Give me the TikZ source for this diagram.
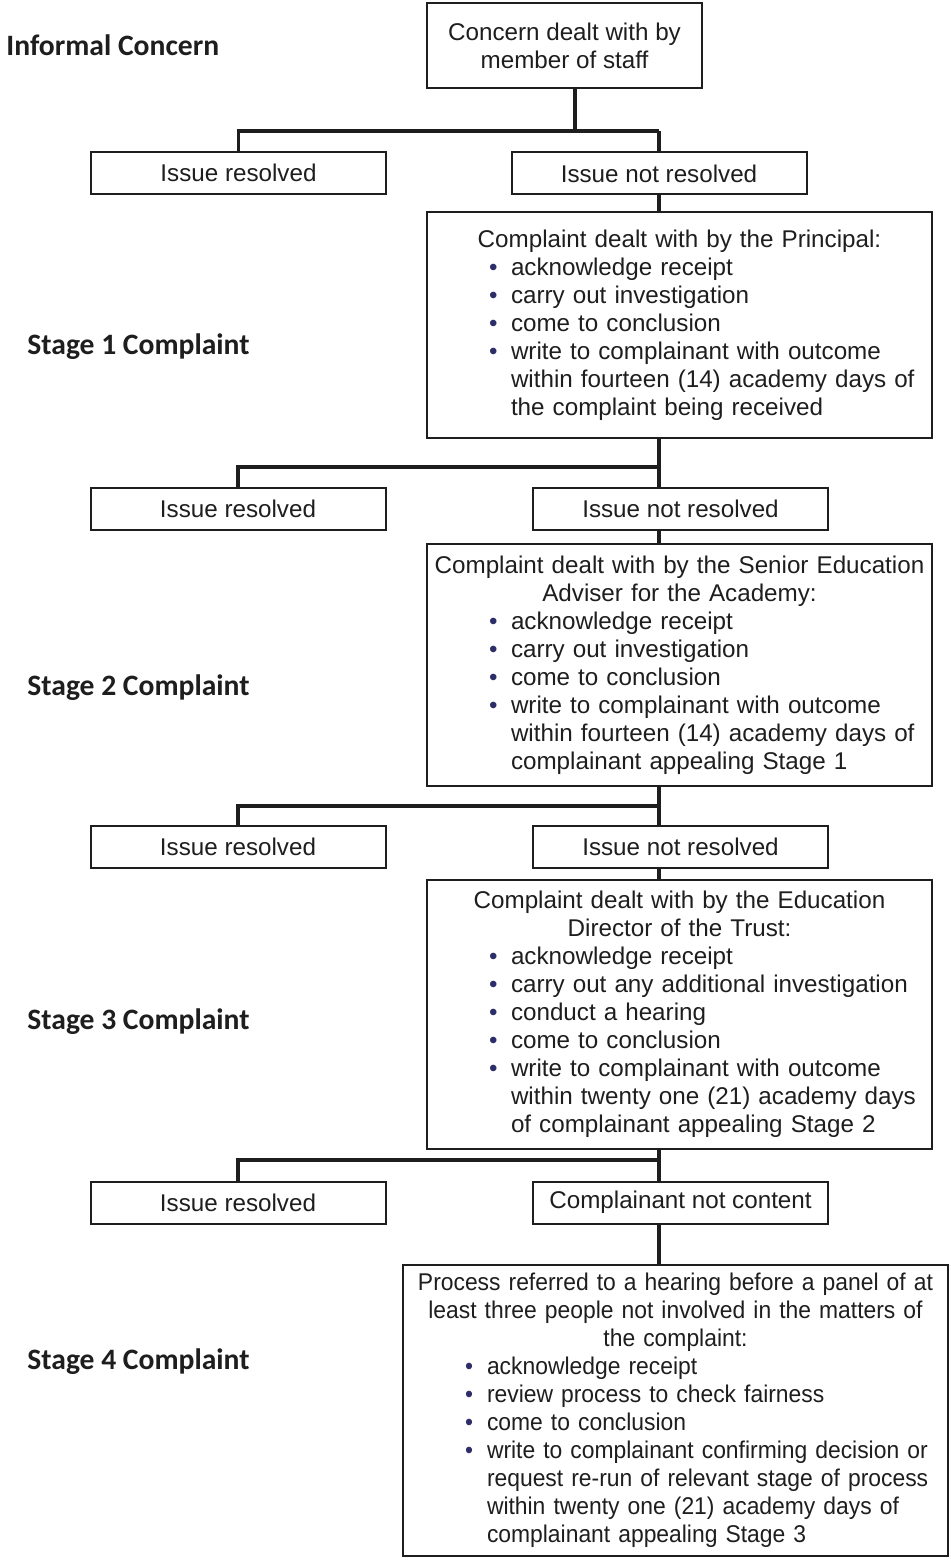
\documentclass[tikz,border=0pt]{standalone}
\usepackage{fontspec}
\setmainfont{Liberation Sans}
\newfontfamily\narrowfont[FakeStretch=0.945]{Liberation Sans}
\newfontfamily\labelfont{Carlito}
\setlength\parindent{0pt}
\definecolor{ink}{RGB}{30,30,30}
\definecolor{bul}{RGB}{45,45,105}
\newcommand\bodyfont{\fontsize{12.1}{14}\selectfont}
\newcommand\hd[1]{\makebox[\linewidth][c]{#1}}
\newcommand\bi[1]{\makebox[\linewidth][l]{\hspace*{31pt}\makebox[11pt][l]{\textcolor{bul}{\textbullet}}#1}}
\newcommand\ct[1]{\makebox[\linewidth][l]{\hspace*{42pt}#1}}
\tikzset{
  box/.style={draw=ink, line width=1pt, inner sep=0pt, text=ink, font=\bodyfont, align=center},
  smallbox/.style={box, minimum width=147.5pt, minimum height=21pt},
  stagebox/.style={draw=ink, line width=1pt, inner sep=0pt, text=ink, font=\bodyfont},
  conn/.style={draw=ink, line width=1.8pt},
  stagelabel/.style={anchor=base west, inner sep=0pt, text=ink, font=\labelfont\bfseries\fontsize{14.8}{17}\selectfont},
}
\begin{document}
\begin{tikzpicture}[x=0.5pt,y=-0.5pt]
\useasboundingbox[fill=white] (0,0) rectangle (951,1562);

% left labels
\node[stagelabel] (l0) at (6,56) {Informal Concern};
\node[stagelabel] (l1) at (27,354) {Stage 1 Complaint};
\node[stagelabel] (l2) at (27,695) {Stage 2 Complaint};
\node[stagelabel] (l3) at (27,1029) {Stage 3 Complaint};
\node[stagelabel] (l4) at (27,1369) {Stage 4 Complaint};

% top box
\node[box, minimum width=137.5pt, minimum height=42.5pt] (top) at (564.5,45.5) {Concern dealt with by\\member of staff};

% row 1
\node[smallbox] (r1L) at (238.5,173) {Issue resolved};
\node[smallbox] (r1R) at (659,173.5) {Issue not resolved};

% stage 1
\node[stagebox, text width=252.5pt, minimum height=113pt] (s1) at (679.5,325) {%
\hd{Complaint dealt with by the Principal:}\par
\bi{acknowledge receipt}\par
\bi{carry out investigation}\par
\bi{come to conclusion}\par
\bi{write to complainant with outcome}\par
\ct{within fourteen (14) academy days of}\par
\ct{the complaint being received}};

% row 2
\node[smallbox] (r2L) at (238,509) {Issue resolved};
\node[smallbox] (r2R) at (680.5,509) {Issue not resolved};

% stage 2
\node[stagebox, text width=252.5pt, minimum height=121pt] (s2) at (679.5,665) {%
\hd{Complaint dealt with by the Senior Education}\par
\hd{Adviser for the Academy:}\par
\bi{acknowledge receipt}\par
\bi{carry out investigation}\par
\bi{come to conclusion}\par
\bi{write to complainant with outcome}\par
\ct{within fourteen (14) academy days of}\par
\ct{complainant appealing Stage 1}};

% row 3
\node[smallbox] (r3L) at (238,846.5) {Issue resolved};
\node[smallbox] (r3R) at (680.5,846.5) {Issue not resolved};

% stage 3
\node[stagebox, text width=252.5pt, minimum height=134.5pt] (s3) at (679.5,1014.5) {%
\hd{Complaint dealt with by the Education}\par
\hd{Director of the Trust:}\par
\bi{acknowledge receipt}\par
\bi{carry out any additional investigation}\par
\bi{conduct a hearing}\par
\bi{come to conclusion}\par
\bi{write to complainant with outcome}\par
\ct{within twenty one (21) academy days}\par
\ct{of complainant appealing Stage 2}};

% row 4
\node[smallbox] (r4L) at (238,1202.5) {Issue resolved};
\node[smallbox] (r4R) at (680.5,1202.5) {Complainant not content};

% stage 4
\node[stagebox, text width=272.5pt, minimum height=145.5pt, font=\narrowfont\bodyfont] (s4) at (675.5,1410.5) {%
\hd{Process referred to a hearing before a panel of at}\par
\hd{least three people not involved in the matters of}\par
\hd{the complaint:}\par
\bi{acknowledge receipt}\par
\bi{review process to check fairness}\par
\bi{come to conclusion}\par
\bi{write to complainant confirming decision or}\par
\ct{request re-run of relevant stage of process}\par
\ct{within twenty one (21) academy days of}\par
\ct{complainant appealing Stage 3}};

% connectors
\coordinate (tx) at (575,0);
\coordinate (cx) at (659,0);
\coordinate (j1) at (659,131);
\coordinate (j2) at (659,467);
\coordinate (j3) at (659,806);
\coordinate (j4) at (659,1160);

\draw[conn] (top.south -| tx) |- (j1);
\draw[conn] (j1) -- (r1R.north -| cx);
\draw[conn] (j1) -| (r1L.north);
\draw[conn] (r1R.south -| cx) -- (s1.north -| cx);

\draw[conn] (s1.south -| cx) -- (r2R.north -| cx);
\draw[conn] (j2) -| (r2L.north);
\draw[conn] (r2R.south -| cx) -- (s2.north -| cx);

\draw[conn] (s2.south -| cx) -- (r3R.north -| cx);
\draw[conn] (j3) -| (r3L.north);
\draw[conn] (r3R.south -| cx) -- (s3.north -| cx);

\draw[conn] (s3.south -| cx) -- (r4R.north -| cx);
\draw[conn] (j4) -| (r4L.north);
\draw[conn] (r4R.south -| cx) -- (s4.north -| cx);
\end{tikzpicture}
\end{document}
